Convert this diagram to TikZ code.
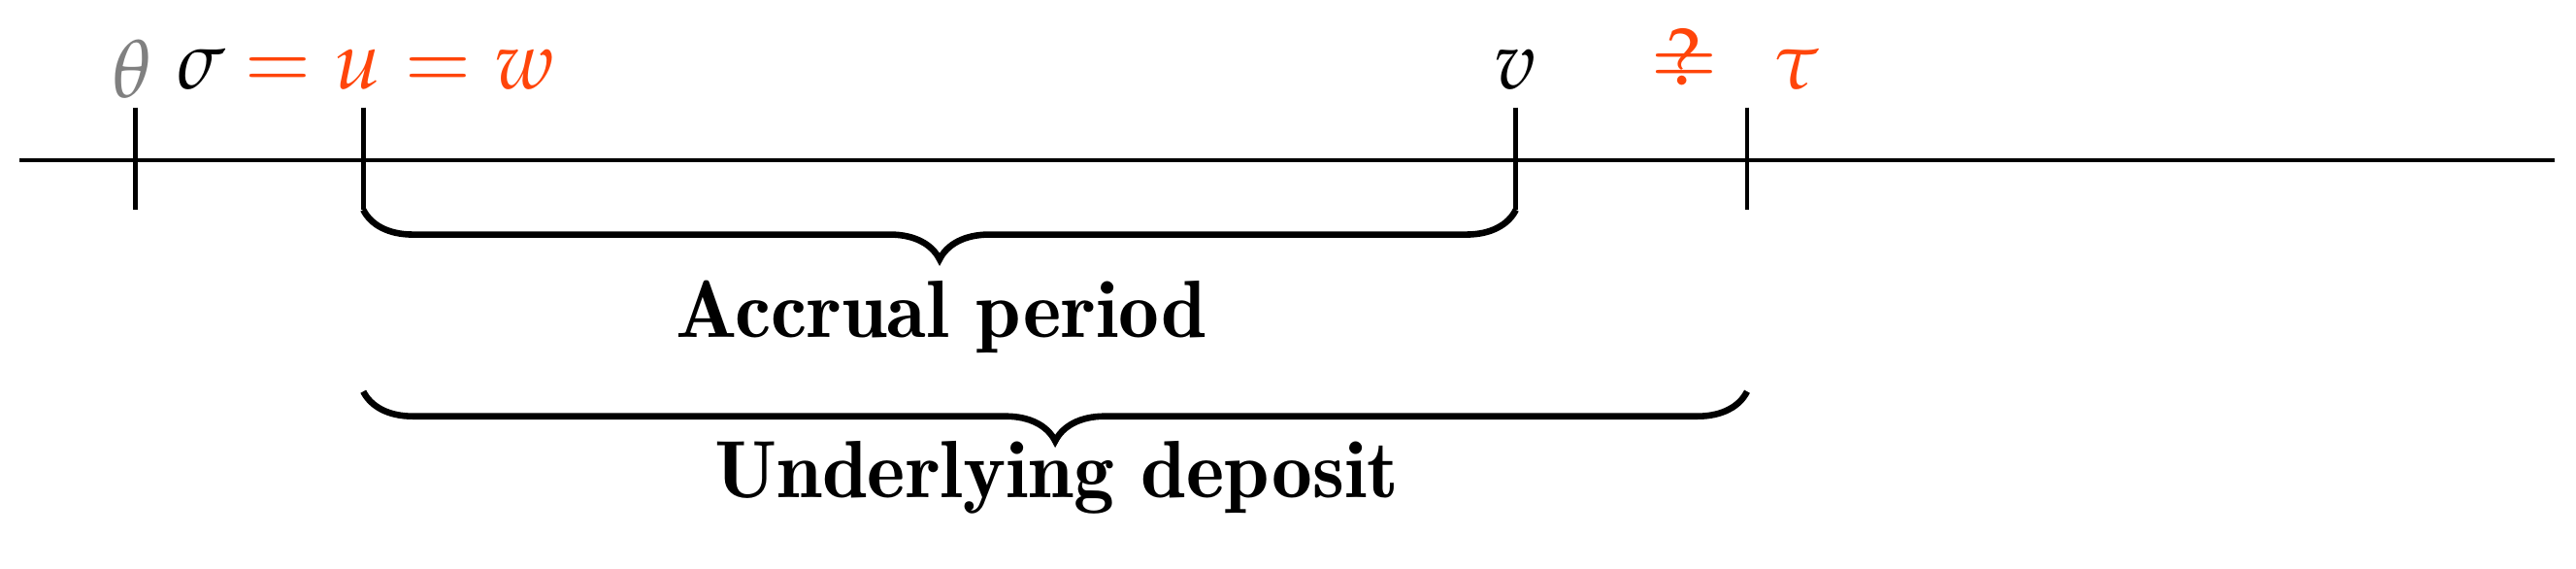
\documentclass[tikz,border=0pt]{standalone}
\usepackage{mathpazo}
\usetikzlibrary{decorations.pathreplacing}
\definecolor{myred}{RGB}{255,69,10}
\begin{document}
\begin{tikzpicture}[
  lab/.style={inner sep=0pt,font=\fontsize{14}{17}\selectfont},
  txt/.style={inner sep=0pt,font=\fontfamily{lmr}\fontseries{b}\fontsize{14}{17}\selectfont},
  tick/.style={line width=0.8pt},
  br/.style={decorate,decoration={brace,mirror,amplitude=0.30cm,aspect=0.5},line width=1.1pt}]
\useasboundingbox (0,0) rectangle (15.60,3.44);
\coordinate (L) at (0.12,2.47); \coordinate (R) at (15.47,2.47);
\draw[line width=0.6pt] (L) -- (R);
\foreach \n/\x in {t/0.82,u/2.20,v/9.18,w/10.58}{
  \coordinate (\n a) at (\x,2.79); \coordinate (\n b) at (\x,2.17);
  \draw[tick] (\n a) -- (\n b);}
\node[lab,text=gray] (theta) at (0.80,3.02) {$\theta$};
\node[lab] (sigma) at (1.22,3.02) {$\sigma$};
\node[lab,text=myred,anchor=west] (uw) at (1.47,3.02) {$=u=w$};
\node[lab] (vl) at (9.18,3.02) {$v$};
\node[lab,text=myred] (q) at (10.20,3.02) {$\mathrel{\ooalign{$=$\cr\hidewidth$?$\hidewidth}}$};
\node[lab,text=myred] (tau) at (10.88,3.02) {$\tau$};
\draw[br] (ub) -- (vb);
\coordinate (ub2) at (2.20,1.07); \coordinate (wb2) at (10.58,1.07);
\draw[br] (ub2) -- (wb2);
\node[txt] (acc) at (5.70,1.52) {Accrual period};
\node[txt] (und) at (6.40,0.55) {Underlying deposit};
\end{tikzpicture}
\end{document}
